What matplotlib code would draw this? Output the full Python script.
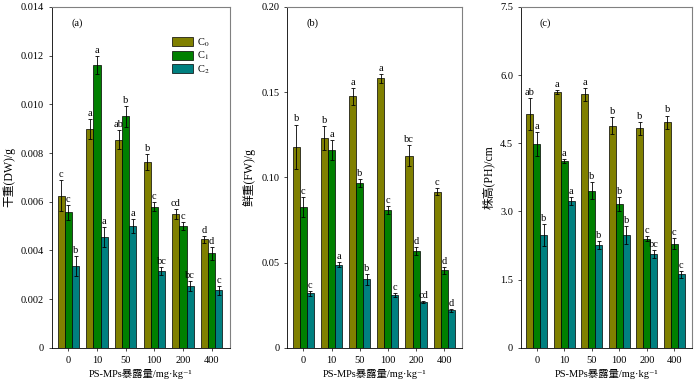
import matplotlib
matplotlib.use("Agg")
import matplotlib.pyplot as plt
import numpy as np

plt.rcParams['font.family'] = ['Liberation Serif', 'Noto Sans CJK SC', 'DejaVu Serif', 'DejaVu Sans']
plt.rcParams['mathtext.fontset'] = 'stix'

doses = ['0', '10', '50', '100', '200', '400']
series = ['C$_0$', 'C$_1$', 'C$_2$']
colors = ['#808000', '#008000', '#008080']

# (a) dry weight
dw_c0 = [0.00625, 0.00898, 0.00855, 0.00763, 0.00550, 0.00446]
dw_c1 = [0.00557, 0.01163, 0.00950, 0.00580, 0.00500, 0.00388]
dw_c2 = [0.00337, 0.00457, 0.00500, 0.00317, 0.00254, 0.00237]
dw_e0 = [0.00065, 0.00040, 0.00038, 0.00034, 0.00019, 0.00014]
dw_e1 = [0.00030, 0.00037, 0.00042, 0.00017, 0.00017, 0.00028]
dw_e2 = [0.00040, 0.00041, 0.00030, 0.00016, 0.00020, 0.00018]
dw_l0 = ['c', 'a', 'ab', 'b', 'cd', 'd']
dw_l1 = ['c', 'a', 'b', 'c', 'c', 'd']
dw_l2 = ['b', 'a', 'a', 'bc', 'bc', 'c']

# (b) fresh weight
fw_c0 = [0.118, 0.123, 0.1475, 0.158, 0.1128, 0.0917]
fw_c1 = [0.0825, 0.116, 0.0966, 0.081, 0.0568, 0.0454]
fw_c2 = [0.032, 0.0488, 0.0402, 0.0311, 0.0268, 0.0221]
fw_e0 = [0.013, 0.007, 0.0049, 0.0024, 0.0059, 0.0023]
fw_e1 = [0.0058, 0.0057, 0.0024, 0.0024, 0.0026, 0.0022]
fw_e2 = [0.0015, 0.0015, 0.0031, 0.0012, 0.0006, 0.0008]
fw_l0 = ['b', 'b', 'a', 'a', 'bc', 'c']
fw_l1 = ['c', 'a', 'b', 'c', 'd', 'd']
fw_l2 = ['c', 'a', 'b', 'c', 'cd', 'd']

# (c) plant height
ph_c0 = [5.14, 5.63, 5.58, 4.89, 4.83, 4.96]
ph_c1 = [4.49, 4.11, 3.46, 3.17, 2.40, 2.29]
ph_c2 = [2.49, 3.23, 2.26, 2.49, 2.06, 1.62]
ph_e0 = [0.35, 0.04, 0.14, 0.19, 0.14, 0.15]
ph_e1 = [0.26, 0.04, 0.19, 0.15, 0.06, 0.12]
ph_e2 = [0.24, 0.08, 0.08, 0.20, 0.09, 0.08]
ph_l0 = ['ab', 'a', 'a', 'b', 'b', 'b']
ph_l1 = ['a', 'a', 'b', 'b', 'c', 'c']
ph_l2 = ['b', 'a', 'b', 'b', 'bc', 'c']

panels = [
    dict(vals=[dw_c0, dw_c1, dw_c2], errs=[dw_e0, dw_e1, dw_e2], lets=[dw_l0, dw_l1, dw_l2],
         ylim=0.014, ticks=[0, 0.002, 0.004, 0.006, 0.008, 0.010, 0.012, 0.014],
         tlabels=['0', '0.002', '0.004', '0.006', '0.008', '0.010', '0.012', '0.014'],
         ylabel='干重(DW)/g', tag='(a)', pos=[0.074, 0.082, 0.254, 0.9]),
    dict(vals=[fw_c0, fw_c1, fw_c2], errs=[fw_e0, fw_e1, fw_e2], lets=[fw_l0, fw_l1, fw_l2],
         ylim=0.20, ticks=[0, 0.05, 0.10, 0.15, 0.20],
         tlabels=['0', '0.05', '0.10', '0.15', '0.20'],
         ylabel='鲜重(FW)/g', tag='(b)', pos=[0.41, 0.082, 0.25, 0.9]),
    dict(vals=[ph_c0, ph_c1, ph_c2], errs=[ph_e0, ph_e1, ph_e2], lets=[ph_l0, ph_l1, ph_l2],
         ylim=7.5, ticks=[0, 1.5, 3.0, 4.5, 6.0, 7.5],
         tlabels=['0', '1.5', '3.0', '4.5', '6.0', '7.5'],
         ylabel='株高(PH)/cm', tag='(c)', pos=[0.744, 0.082, 0.244, 0.9]),
]

fig = plt.figure(figsize=(7, 3.79), dpi=100)
x = np.arange(len(doses))
w = 0.25
fs = 7.5

for pi, p in enumerate(panels):
    ax = fig.add_axes(p['pos'])
    for si in range(3):
        xs = x + (si - 1) * w
        ax.bar(xs, p['vals'][si], width=w, color=colors[si], edgecolor='black',
               linewidth=0.5, label=series[si], zorder=2)
        ax.errorbar(xs, p['vals'][si], yerr=p['errs'][si], fmt='none', ecolor='black',
                    elinewidth=0.6, capsize=1.5, capthick=0.6, zorder=3)
        for xi, v, e, lt in zip(xs, p['vals'][si], p['errs'][si], p['lets'][si]):
            ax.text(xi, v + e + p['ylim'] * 0.003, lt, ha='center', va='bottom', fontsize=fs)
    ax.set_xlim(-0.58, 5.63)
    ax.set_ylim(0, p['ylim'])
    ax.set_yticks(p['ticks'])
    ax.set_yticklabels(p['tlabels'], fontsize=fs)
    ax.set_xticks(x)
    ax.set_xticklabels(doses, fontsize=fs)
    ax.tick_params(axis='both', direction='out', length=2, width=0.5)
    ax.set_ylabel(p['ylabel'], fontsize=8.5, labelpad=4)
    ax.set_xlabel('PS-MPs暴露量/mg·kg⁻¹', fontsize=fs, labelpad=3)
    for s in ['left', 'bottom']:
        ax.spines[s].set_linewidth(0.6)
        ax.spines[s].set_color('black')
    for s in ['top', 'right']:
        ax.spines[s].set_linewidth(0.8)
        ax.spines[s].set_color('#808080')
    ax.text(0.11, 0.965, p['tag'], transform=ax.transAxes, fontsize=fs, ha='left', va='top')
    if pi == 0:
        ax.legend(loc='upper right', bbox_to_anchor=(0.93, 0.935), frameon=False, fontsize=fs,
                  handlelength=2.0, handleheight=0.9, labelspacing=0.1, handletextpad=0.4,
                  borderpad=0.2)

fig.savefig('out.png', dpi=100)
